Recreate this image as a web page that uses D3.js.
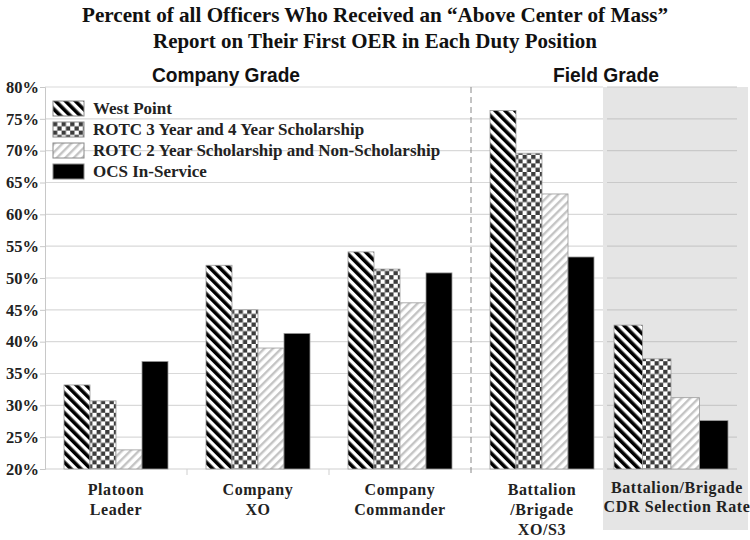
<!DOCTYPE html>
<html>
<head>
<meta charset="utf-8">
<script src="https://cdn.jsdelivr.net/npm/d3@7"></script>
<style>
  body { margin: 0; background: #fff; }
  svg { display: block; }
</style>
</head>
<body>
<div id="chart"></div>
<script>
// DATA
var categories = ["Platoon Leader", "Company XO", "Company Commander", "Battalion /Brigade XO/S3"];
var categoryLines = [["Platoon", "Leader"], ["Company", "XO"], ["Company", "Commander"], ["Battalion", "/Brigade", "XO/S3"]];
var selectionCategory = ["Battalion/Brigade", "CDR Selection Rate"];
var series = ["West Point", "ROTC 3 Year and 4 Year Scholarship", "ROTC 2 Year Scholarship and Non-Scholarship", "OCS In-Service"];
var westPoint = [33.2, 52.0, 54.1, 76.3];
var rotc34 = [30.7, 45.0, 51.4, 69.6];
var rotc2 = [23.0, 39.0, 46.1, 63.2];
var ocs = [36.9, 41.3, 50.8, 53.3];
var selectionRate = [42.6, 37.3, 31.2, 27.6];   // WP, ROTC3/4, ROTC2, OCS
var yTicks = [20, 25, 30, 35, 40, 45, 50, 55, 60, 65, 70, 75, 80];

var seriesValues = [westPoint, rotc34, rotc2, ocs];
var fills = ["url(#wp)", "url(#checker)", "url(#lightstripe)", "#000"];

var width = 750, height = 540;
var plotLeft = 45, plotTop = 87, plotBottom = 469, mainRight = 613;
var panelLeft = 603, panelRight = 737;

var svg = d3.select("#chart").append("svg")
    .attr("width", width)
    .attr("height", height);

// patterns
var defs = svg.append("defs");
var p1 = defs.append("pattern").attr("id", "wp").attr("patternUnits", "userSpaceOnUse")
    .attr("width", 7).attr("height", 7).attr("patternTransform", "rotate(-45)");
p1.append("rect").attr("width", 7).attr("height", 7).attr("fill", "#fff");
p1.append("rect").attr("width", 3.6).attr("height", 7).attr("fill", "#000");

var p2 = defs.append("pattern").attr("id", "checker").attr("patternUnits", "userSpaceOnUse")
    .attr("width", 8.6).attr("height", 8.6);
p2.append("rect").attr("width", 8.6).attr("height", 8.6).attr("fill", "#fff");
p2.append("rect").attr("width", 4.3).attr("height", 4.3).attr("fill", "#3c3c3c");
p2.append("rect").attr("x", 4.3).attr("y", 4.3).attr("width", 4.3).attr("height", 4.3).attr("fill", "#3c3c3c");

var p3 = defs.append("pattern").attr("id", "lightstripe").attr("patternUnits", "userSpaceOnUse")
    .attr("width", 6).attr("height", 6).attr("patternTransform", "rotate(45)");
p3.append("rect").attr("width", 6).attr("height", 6).attr("fill", "#fff");
p3.append("rect").attr("width", 2.4).attr("height", 6).attr("fill", "#c4c4c4");

// scales
var y = d3.scaleLinear().domain([20, 80]).range([plotBottom, plotTop]);

var x0 = d3.scaleBand().domain(categories).range([plotLeft, mainRight]);
var x1 = d3.scaleBand().domain(series).range([19, x0.bandwidth() - 19]);

var xs0 = d3.scaleBand().domain(["sel"]).range([panelLeft, panelRight]);
var xs1 = d3.scaleBand().domain(series).range([11, xs0.bandwidth() - 9]);

// gray panel for the selection rate
svg.append("rect")
    .attr("x", panelLeft).attr("y", plotTop)
    .attr("width", 748 - panelLeft).attr("height", 530 - plotTop)
    .attr("fill", "#e5e5e5");

// gridlines
svg.append("g").selectAll("line")
    .data(yTicks.slice(1))
    .join("line")
    .attr("x1", plotLeft).attr("x2", panelLeft)
    .attr("y1", d => y(d)).attr("y2", d => y(d))
    .attr("stroke", "#d9d9d9").attr("stroke-width", 1.2);

svg.append("g").selectAll("line")
    .data(yTicks.slice(1))
    .join("line")
    .attr("x1", panelLeft + 4).attr("x2", panelRight)
    .attr("y1", d => y(d)).attr("y2", d => y(d))
    .attr("stroke", "#c9c9c9").attr("stroke-width", 1.2);

// baseline + category ticks
svg.append("line")
    .attr("x1", plotLeft).attr("x2", panelLeft)
    .attr("y1", plotBottom).attr("y2", plotBottom)
    .attr("stroke", "#cfcfcf").attr("stroke-width", 1.2);
svg.append("line")
    .attr("x1", panelLeft + 4).attr("x2", panelRight)
    .attr("y1", plotBottom).attr("y2", plotBottom)
    .attr("stroke", "#c4c4c4").attr("stroke-width", 1.2);
svg.append("g").selectAll("line")
    .data(categories.slice(1, 3))
    .join("line")
    .attr("x1", d => x0(d)).attr("x2", d => x0(d))
    .attr("y1", plotBottom).attr("y2", plotBottom + 6)
    .attr("stroke", "#cfcfcf");

// y axis
var yAxis = svg.append("g")
    .attr("transform", "translate(" + plotLeft + ",0)")
    .call(d3.axisLeft(y).tickValues(yTicks).tickSize(5).tickFormat(d => d + "%"));
yAxis.select(".domain").attr("stroke", "#c8c8c8");
yAxis.selectAll(".tick line").attr("stroke", "#c8c8c8");
yAxis.selectAll(".tick text")
    .attr("x", -6)
    .attr("fill", "#222")
    .style("font-family", "'Liberation Serif', 'Times New Roman', serif")
    .style("font-weight", "bold")
    .style("font-size", "16.5px");

// dashed separator
svg.append("line")
    .attr("x1", x0(categories[3])).attr("x2", x0(categories[3]))
    .attr("y1", plotTop).attr("y2", plotBottom + 6)
    .attr("stroke", "#888").attr("stroke-width", 1)
    .attr("stroke-dasharray", "6,4");

// bars
var groups = svg.append("g").selectAll("g")
    .data(categories)
    .join("g")
    .attr("transform", d => "translate(" + x0(d) + ",0)");

groups.selectAll("rect")
    .data((d, i) => series.map((s, j) => ({ s: s, v: seriesValues[j][i], f: fills[j] })))
    .join("rect")
    .attr("x", d => x1(d.s))
    .attr("width", x1.bandwidth())
    .attr("y", d => y(d.v))
    .attr("height", d => y(20) - y(d.v))
    .attr("fill", d => d.f)
    .attr("stroke", "#9a9a9a")
    .attr("stroke-width", 0.8);

svg.append("g")
    .attr("transform", "translate(" + xs0("sel") + ",0)")
    .selectAll("rect")
    .data(series.map((s, j) => ({ s: s, v: selectionRate[j], f: fills[j] })))
    .join("rect")
    .attr("x", d => xs1(d.s))
    .attr("width", xs1.bandwidth())
    .attr("y", d => y(d.v))
    .attr("height", d => y(20) - y(d.v))
    .attr("fill", d => d.f)
    .attr("stroke", "#9a9a9a")
    .attr("stroke-width", 0.8);

// category labels
var serif = "'Liberation Serif', 'Times New Roman', serif";
groups.each(function(d, i) {
    var t = d3.select(this).append("text")
        .attr("text-anchor", "middle")
        .attr("font-family", serif)
        .attr("font-weight", "bold")
        .attr("font-size", "16px")
        .attr("letter-spacing", "0.6px")
        .attr("fill", "#222");
    categoryLines[i].forEach(function(line, k) {
        t.append("tspan").attr("x", x0.bandwidth() / 2).attr("y", 495 + k * 20).text(line);
    });
});

var selLabel = svg.append("text")
    .attr("text-anchor", "middle")
    .attr("font-family", serif)
    .attr("font-weight", "bold")
    .attr("font-size", "16px")
    .attr("letter-spacing", "0.6px")
    .attr("fill", "#222");
selectionCategory.forEach(function(line, k) {
    selLabel.append("tspan").attr("x", 677).attr("y", 493 + k * 19).text(line);
});

// legend
var legend = svg.append("g").selectAll("g")
    .data(series)
    .join("g")
    .attr("transform", (d, i) => "translate(53," + (101 + i * 21) + ")");
legend.append("rect")
    .attr("width", 31).attr("height", 15)
    .attr("fill", (d, i) => fills[i])
    .attr("stroke", "#888").attr("stroke-width", 1);
legend.append("text")
    .attr("x", 40).attr("y", 13)
    .attr("font-family", serif)
    .attr("font-weight", "bold")
    .attr("font-size", "17px")
    .attr("fill", "#222")
    .text(d => d);

// section headings
var sans = "'Liberation Sans Narrow', 'Arial Narrow', 'Liberation Sans', Arial, sans-serif";
svg.append("text")
    .attr("x", 226).attr("y", 82)
    .attr("text-anchor", "middle")
    .attr("font-family", sans).attr("font-weight", "bold").attr("font-size", "20px")
    .attr("textLength", 148).attr("lengthAdjust", "spacingAndGlyphs")
    .attr("fill", "#111")
    .text("Company Grade");
svg.append("text")
    .attr("x", 606).attr("y", 82)
    .attr("text-anchor", "middle")
    .attr("font-family", sans).attr("font-weight", "bold").attr("font-size", "20px")
    .attr("textLength", 106).attr("lengthAdjust", "spacingAndGlyphs")
    .attr("fill", "#111")
    .text("Field Grade");

// title
svg.append("text")
    .attr("x", 375).attr("y", 22)
    .attr("text-anchor", "middle")
    .attr("font-family", serif).attr("font-weight", "bold").attr("font-size", "22px")
    .attr("textLength", 586).attr("lengthAdjust", "spacingAndGlyphs")
    .attr("fill", "#111")
    .text("Percent of all Officers Who Received an “Above Center of Mass”");
svg.append("text")
    .attr("x", 375).attr("y", 48)
    .attr("text-anchor", "middle")
    .attr("font-family", serif).attr("font-weight", "bold").attr("font-size", "22px")
    .attr("textLength", 444).attr("lengthAdjust", "spacingAndGlyphs")
    .attr("fill", "#111")
    .text("Report on Their First OER in Each Duty Position");
</script>
</body>
</html>
